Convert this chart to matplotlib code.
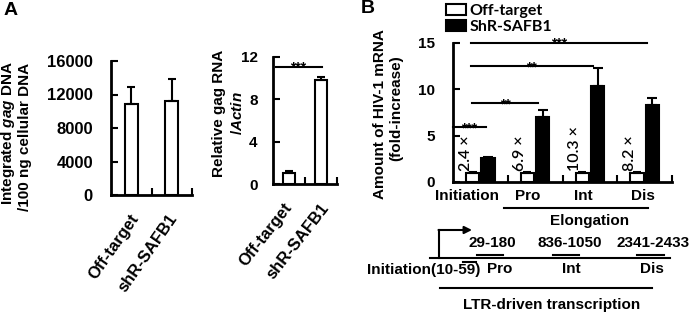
import matplotlib
matplotlib.use('Agg')
import matplotlib.pyplot as plt
from matplotlib.transforms import ScaledTranslation
from matplotlib.patches import Patch
from matplotlib.font_manager import FontProperties
import numpy as np

# ---------------- data ----------------
a1_categories = ['Off-target', 'shR-SAFB1']
a1_values = [10900, 11200]
a1_errors = [1950, 2650]
a1_yticks = [0, 4000, 8000, 12000, 16000]

a2_categories = ['Off-target', 'shR-SAFB1']
a2_values = [1.0, 9.8]
a2_errors = [0.2, 0.3]
a2_yticks = [0, 4, 8, 12]

b_regions = ['Initiation', 'Pro', 'Int', 'Dis']
b_off_values = [1.0, 1.0, 1.0, 1.0]
b_off_errors = [0.05, 0.05, 0.05, 0.05]
b_shr_values = [2.6, 7.0, 10.4, 8.3]
b_shr_errors = [0.05, 0.75, 1.85, 0.8]
b_fold = ['2.4', '6.9', '10.3', '8.2']
b_yticks = [0, 5, 10, 15]
b_series = ['Off-target', 'ShR-SAFB1']
b_sig_labels = ['***', '**', '**', '***']
b_sig_heights = [5.9, 8.5, 12.5, 15.0]
b_sig_starts = [-0.5, -0.15, -0.18, -0.18]
b_sig_ends = [0.1, 1.05, 2.05, 3.05]

# ---------------- style ----------------
W, H, DPI = 693, 315, 100
plt.rcParams['font.family'] = ['Liberation Sans', 'DejaVu Sans']
plt.rcParams['font.weight'] = 'bold'
plt.rcParams['mathtext.fontset'] = 'custom'
plt.rcParams['mathtext.it'] = 'Liberation Sans:italic:bold'
plt.rcParams['mathtext.rm'] = 'Liberation Sans:bold'
plt.rcParams['mathtext.bf'] = 'Liberation Sans:bold'
FS = 11
LW = 1.5

fig = plt.figure(figsize=(W / DPI, H / DPI), dpi=DPI)


def rect(l, r, t, b):
    return [l / W, 1 - b / H, (r - l) / W, (b - t) / H]


def style_axes(ax, pad, size=FS):
    for s in ('top', 'right'):
        ax.spines[s].set_visible(False)
    for s in ('left', 'bottom'):
        ax.spines[s].set_linewidth(2)
    ax.tick_params(axis='y', direction='in', length=5, width=LW, pad=pad, labelsize=size)
    ax.tick_params(axis='x', which='major', length=0)
    ax.tick_params(axis='x', which='minor', direction='in', length=5, width=LW)


def offset_labels(ax, dxs, fig):
    for lab, dx in zip(ax.get_xticklabels(), dxs):
        lab.set_transform(lab.get_transform() + ScaledTranslation(dx / DPI, 0, fig.dpi_scale_trans))


# ---------------- Panel A left ----------------
ax1 = fig.add_axes(rect(111, 192, 61, 195))
x1 = np.arange(len(a1_categories))
ax1.bar(x1, a1_values, width=0.32, color='white', edgecolor='black', linewidth=LW, zorder=2)
ax1.errorbar(x1, a1_values, yerr=[np.zeros(len(x1)), a1_errors], fmt='none', ecolor='black',
             elinewidth=LW, capsize=3, capthick=LW, zorder=3)
ax1.set_xlim(-0.5, 1.5)
ax1.set_ylim(0, 16000)
ax1.set_yticks(a1_yticks)
ax1.set_xticks([0.5, 1.5], minor=True)
ax1.set_xticks(x1, a1_categories, rotation=55, ha='right', va='center', rotation_mode='anchor',
               fontsize=12)
style_axes(ax1, 13, 12)
ax1.tick_params(axis='x', which='major', pad=15)
offset_labels(ax1, [4, 2], fig)

# ---------------- Panel A right ----------------
ax2 = fig.add_axes(rect(273, 337, 57, 184))
x2 = np.arange(len(a2_categories))
ax2.bar(x2, a2_values, width=0.4, color='white', edgecolor='black', linewidth=LW, zorder=2)
ax2.errorbar(x2, a2_values, yerr=[np.zeros(len(x2)), a2_errors], fmt='none', ecolor='black',
             elinewidth=LW, capsize=3, capthick=LW, zorder=3)
ax2.set_xlim(-0.5, 1.5)
ax2.set_ylim(0, 12)
ax2.set_yticks(a2_yticks)
ax2.set_xticks([0.5, 1.5], minor=True)
ax2.set_xticks(x2, a2_categories, rotation=52, ha='right', va='center', rotation_mode='anchor',
               fontsize=12)
style_axes(ax2, 11)
ax2.tick_params(axis='x', which='major', pad=15)
offset_labels(ax2, [0, 5], fig)
ax2.plot([-0.4, 1.02], [11.05, 11.05], color='black', lw=LW, clip_on=False)
ax2.annotate('***', xy=(0.28, 11.05), xytext=(0, -3.5), textcoords='offset points',
             ha='center', va='baseline', fontsize=10, annotation_clip=False)

# ---------------- Panel B ----------------
axb = fig.add_axes(rect(453, 672, 43, 182))
xb = np.arange(len(b_regions))
bw = 0.24
axb.bar(xb - 0.14, b_off_values, width=bw, color='white', edgecolor='black', linewidth=LW,
        zorder=2, label=b_series[0])
axb.bar(xb + 0.14, b_shr_values, width=bw, color='black', edgecolor='black', linewidth=LW,
        zorder=2, label=b_series[1])
axb.errorbar(xb - 0.14, b_off_values, yerr=[np.zeros(4), b_off_errors], fmt='none', ecolor='black',
             elinewidth=LW, capsize=3, capthick=LW, zorder=3)
axb.errorbar(xb + 0.14, b_shr_values, yerr=[np.zeros(4), b_shr_errors], fmt='none', ecolor='black',
             elinewidth=LW, capsize=3.5, capthick=LW, zorder=3)
axb.set_xlim(-0.5, 3.5)
axb.set_ylim(0, 15)
axb.set_yticks(b_yticks)
axb.set_xticks([0.5, 1.5, 2.5, 3.5], minor=True)
axb.set_xticks(xb, b_regions, fontsize=FS)
style_axes(axb, 13)
axb.tick_params(axis='x', which='major', pad=5)
offset_labels(axb, [-13, -7, -7, -2], fig)

for xi, f in zip(xb, b_fold):
    axb.text(xi - 0.27, b_off_values[0] + 0.15, f + ' \u00d7', rotation=90, ha='center', va='bottom',
             fontsize=11.5, family=['Lato', 'DejaVu Sans'], weight='semibold')

for lab, yh, x0, x1_ in zip(b_sig_labels, b_sig_heights, b_sig_starts, b_sig_ends):
    axb.plot([x0, x1_], [yh, yh], color='black', lw=LW, clip_on=False)
    axb.annotate(lab, xy=((x0 + x1_) / 2, yh), xytext=(0, -3.5), textcoords='offset points',
                 ha='center', va='baseline', fontsize=10, annotation_clip=False)

handles = [Patch(facecolor='white', edgecolor='black', linewidth=LW),
           Patch(facecolor='black', edgecolor='black', linewidth=LW)]
axb.legend(handles, b_series, loc='upper left', bbox_to_anchor=(446 / W, 1 - 4 / H),
           bbox_transform=fig.transFigure, frameon=False,
           prop=FontProperties(family='Lato', weight='bold', size=11.5),
           handlelength=1.25, handleheight=0.7, handletextpad=0.2, labelspacing=0.12,
           borderpad=0, borderaxespad=0)

# ---------------- overlay: labels and gene diagram ----------------
ov = fig.add_axes([0, 0, 1, 1], zorder=-1)
ov.set_xlim(0, W)
ov.set_ylim(H, 0)
ov.axis('off')

ov.text(4, 2, 'A', fontsize=14, ha='left', va='top')
ov.text(361, 0, 'B', fontsize=14, ha='left', va='top')

ov.text(8, 133, r'Integrated $\mathit{gag}$ DNA', rotation=90, ha='center', va='center', fontsize=FS)
ov.text(25, 137, '/100 ng cellular DNA', rotation=90, ha='center', va='center', fontsize=FS)
ov.text(219, 113, 'Relative gag RNA', rotation=90, ha='center', va='center', fontsize=FS)
ov.text(237, 113, r'/$\mathit{Actin}$', rotation=90, ha='center', va='center', fontsize=FS)
ov.text(380, 114, 'Amount of HIV-1 mRNA', rotation=90, ha='center', va='center', fontsize=FS)
ov.text(396, 108, '(fold-increase)', rotation=90, ha='center', va='center', fontsize=FS)

# Elongation bracket
ov.plot([504, 648], [208, 208], color='black', lw=LW)
ov.text(590, 221, 'Elongation', ha='center', va='center', fontsize=FS)

# transcription start arrow
ov.plot([439, 439], [258, 230], color='black', lw=LW)
ov.annotate('', xy=(472, 230), xytext=(438.5, 230),
            arrowprops=dict(arrowstyle='-|>', lw=LW, color='black', mutation_scale=11,
                            shrinkA=0, shrinkB=0))
# genome baseline
ov.plot([430, 670], [258, 258], color='black', lw=LW)
ov.plot([463, 476], [262, 262], color='black', lw=LW)
ov.plot([477, 503], [255, 255], color='black', lw=LW)
ov.plot([553, 579], [255, 255], color='black', lw=LW)
ov.plot([637, 664], [255, 255], color='black', lw=LW)
ov.text(492, 243, '29-180', ha='center', va='center', fontsize=FS)
ov.text(570, 243, '836-1050', ha='center', va='center', fontsize=FS)
ov.text(653, 243, '2341-2433', ha='center', va='center', fontsize=FS)
ov.text(424, 270, 'Initiation(10-59)', ha='center', va='center', fontsize=FS)
ov.text(500, 269, 'Pro', ha='center', va='center', fontsize=FS)
ov.text(571, 269, 'Int', ha='center', va='center', fontsize=FS)
ov.text(652, 269, 'Dis', ha='center', va='center', fontsize=FS)
ov.plot([440, 652], [288, 288], color='black', lw=LW)
ov.text(552, 305, 'LTR-driven transcription', ha='center', va='center', fontsize=FS)

fig.savefig('out.png', dpi=DPI)
